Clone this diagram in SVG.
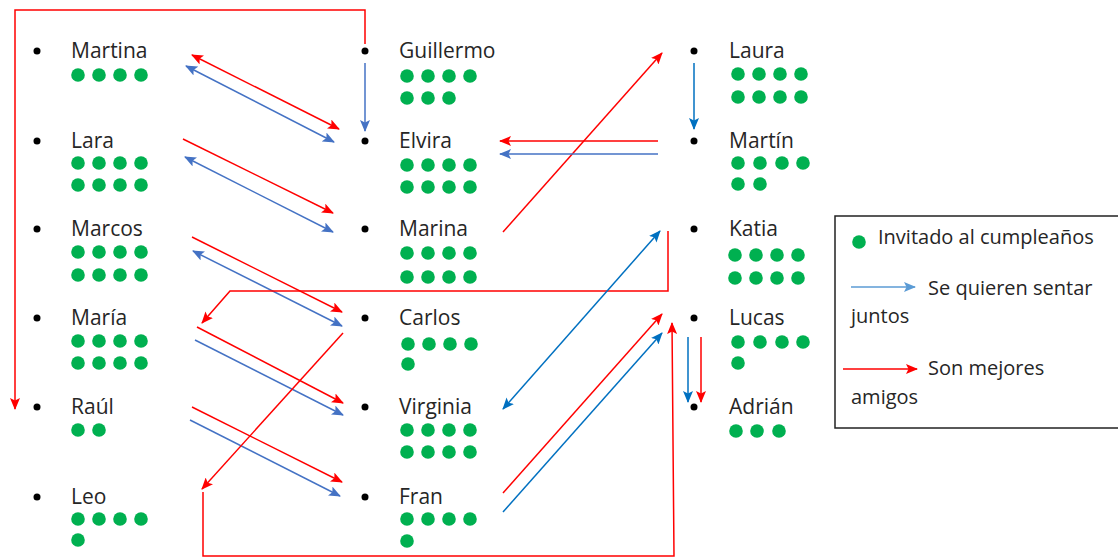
<svg xmlns="http://www.w3.org/2000/svg" width="1118" height="557" viewBox="0 0 1118 557">
<style>
.name{font-family:"Open Sans","Liberation Sans",sans-serif;font-size:21px;fill:#262626}
.leg{font-family:"Open Sans","Liberation Sans",sans-serif;font-size:20px;fill:#262626}
.g{fill:#00B050}
.b{fill:#000}
.r{stroke:#FF0000;stroke-width:1.5;fill:none;marker-end:url(#ar)}
.rn{stroke:#FF0000;stroke-width:1.5;fill:none}
.rr{stroke:#FF0000;stroke-width:1.5;fill:none;marker-end:url(#ar);marker-start:url(#ar)}
.b1{stroke:#4472C4;stroke-width:1.5;fill:none;marker-end:url(#a1)}
.b1b{stroke:#4472C4;stroke-width:1.5;fill:none;marker-end:url(#a1);marker-start:url(#a1)}
.b2{stroke:#0070C0;stroke-width:1.5;fill:none;marker-end:url(#a2)}
.b2b{stroke:#0070C0;stroke-width:1.5;fill:none;marker-end:url(#a2);marker-start:url(#a2)}
.b3{stroke:#5B9BD5;stroke-width:1.5;fill:none;marker-end:url(#a3)}
</style>
<defs>
<marker id="ar" viewBox="0 0 12 10" refX="11" refY="5" markerWidth="12" markerHeight="10" markerUnits="userSpaceOnUse" orient="auto-start-reverse"><path d="M0,0 L12,5 L0,10 L2.5,5 z" fill="#FF0000"/></marker>
<marker id="a1" viewBox="0 0 12 10" refX="11" refY="5" markerWidth="12" markerHeight="10" markerUnits="userSpaceOnUse" orient="auto-start-reverse"><path d="M0,0 L12,5 L0,10 L2.5,5 z" fill="#4472C4"/></marker>
<marker id="a2" viewBox="0 0 12 10" refX="11" refY="5" markerWidth="12" markerHeight="10" markerUnits="userSpaceOnUse" orient="auto-start-reverse"><path d="M0,0 L12,5 L0,10 L2.5,5 z" fill="#0070C0"/></marker>
<marker id="a3" viewBox="0 0 12 10" refX="11" refY="5" markerWidth="12" markerHeight="10" markerUnits="userSpaceOnUse" orient="auto-start-reverse"><path d="M0,0 L12,5 L0,10 L2.5,5 z" fill="#5B9BD5"/></marker>
</defs>
<rect width="1118" height="557" fill="#fff"/>

<g id="connectors">
<polyline class="r" points="365,44 365,10 15,10 15,409"/>
<line class="b1" x1="365" y1="63" x2="365" y2="131"/>
<line class="rr" x1="192" y1="55" x2="339" y2="129"/>
<line class="b1b" x1="186" y1="66" x2="334" y2="142"/>
<line class="r" x1="183" y1="139" x2="333" y2="213"/>
<line class="b1b" x1="185" y1="157" x2="333" y2="232"/>
<line class="r" x1="192" y1="237" x2="342" y2="312"/>
<line class="b1b" x1="193" y1="251" x2="342" y2="326"/>
<polyline class="r" points="668,231 668,291 230,291 202,323"/>
<line class="r" x1="197" y1="327" x2="343" y2="403"/>
<line class="b1" x1="195" y1="340" x2="343" y2="415"/>
<line class="r" x1="192" y1="407" x2="342" y2="482"/>
<line class="b1" x1="190" y1="420" x2="340" y2="496"/>
<line class="r" x1="343" y1="333" x2="202" y2="489"/>
<polyline class="r" points="203,492 203,556 674,556 672,323"/>
<line class="r" x1="503" y1="232" x2="662" y2="53"/>
<line class="r" x1="658" y1="141" x2="500" y2="141"/>
<line class="b1" x1="658" y1="154" x2="500" y2="154"/>
<line class="b2" x1="694" y1="63" x2="694" y2="129"/>
<line class="b2b" x1="660" y1="231" x2="503" y2="409"/>
<line class="r" x1="503" y1="493" x2="662" y2="314"/>
<line class="b2" x1="503" y1="512" x2="662" y2="333"/>
<line class="b2" x1="688" y1="337" x2="688" y2="402"/>
<line class="r" x1="701" y1="337" x2="701" y2="402"/>
</g>

<g id="martina"><circle class="b" cx="37" cy="51" r="3.5"/><text class="name" x="71" y="58">Martina</text>
<circle class="g" cx="78" cy="75" r="6.8"/><circle class="g" cx="99" cy="75" r="6.8"/><circle class="g" cx="120" cy="75" r="6.8"/><circle class="g" cx="141" cy="75" r="6.8"/></g>
<g id="lara"><circle class="b" cx="37" cy="141" r="3.5"/><text class="name" x="71" y="148">Lara</text>
<circle class="g" cx="78" cy="163" r="6.8"/><circle class="g" cx="99" cy="163" r="6.8"/><circle class="g" cx="120" cy="163" r="6.8"/><circle class="g" cx="141" cy="163" r="6.8"/>
<circle class="g" cx="78" cy="185" r="6.8"/><circle class="g" cx="99" cy="185" r="6.8"/><circle class="g" cx="120" cy="185" r="6.8"/><circle class="g" cx="141" cy="185" r="6.8"/></g>
<g id="marcos"><circle class="b" cx="37" cy="229" r="3.5"/><text class="name" x="71" y="236">Marcos</text>
<circle class="g" cx="78" cy="252" r="6.8"/><circle class="g" cx="99" cy="252" r="6.8"/><circle class="g" cx="120" cy="252" r="6.8"/><circle class="g" cx="141" cy="252" r="6.8"/>
<circle class="g" cx="78" cy="275" r="6.8"/><circle class="g" cx="99" cy="275" r="6.8"/><circle class="g" cx="120" cy="275" r="6.8"/><circle class="g" cx="141" cy="275" r="6.8"/></g>
<g id="maria"><circle class="b" cx="37" cy="318" r="3.5"/><text class="name" x="71" y="325">María</text>
<circle class="g" cx="78" cy="341" r="6.8"/><circle class="g" cx="99" cy="341" r="6.8"/><circle class="g" cx="120" cy="341" r="6.8"/><circle class="g" cx="141" cy="341" r="6.8"/>
<circle class="g" cx="78" cy="363" r="6.8"/><circle class="g" cx="99" cy="363" r="6.8"/><circle class="g" cx="120" cy="363" r="6.8"/><circle class="g" cx="141" cy="363" r="6.8"/></g>
<g id="raul"><circle class="b" cx="37" cy="407" r="3.5"/><text class="name" x="71" y="414">Raúl</text>
<circle class="g" cx="78" cy="430" r="6.8"/><circle class="g" cx="99" cy="430" r="6.8"/></g>
<g id="leo"><circle class="b" cx="37" cy="497" r="3.5"/><text class="name" x="71" y="504">Leo</text>
<circle class="g" cx="78" cy="519" r="6.8"/><circle class="g" cx="99" cy="519" r="6.8"/><circle class="g" cx="120" cy="519" r="6.8"/><circle class="g" cx="141" cy="519" r="6.8"/>
<circle class="g" cx="78" cy="540" r="6.8"/></g>

<g id="guillermo"><circle class="b" cx="365" cy="51" r="3.5"/><text class="name" x="399" y="58">Guillermo</text>
<circle class="g" cx="407" cy="76" r="6.8"/><circle class="g" cx="428" cy="76" r="6.8"/><circle class="g" cx="449" cy="76" r="6.8"/><circle class="g" cx="470" cy="76" r="6.8"/>
<circle class="g" cx="407" cy="98" r="6.8"/><circle class="g" cx="428" cy="98" r="6.8"/><circle class="g" cx="449" cy="98" r="6.8"/></g>
<g id="elvira"><circle class="b" cx="365" cy="141" r="3.5"/><text class="name" x="399" y="148">Elvira</text>
<circle class="g" cx="407" cy="165" r="6.8"/><circle class="g" cx="428" cy="165" r="6.8"/><circle class="g" cx="449" cy="165" r="6.8"/><circle class="g" cx="470" cy="165" r="6.8"/>
<circle class="g" cx="407" cy="187" r="6.8"/><circle class="g" cx="428" cy="187" r="6.8"/><circle class="g" cx="449" cy="187" r="6.8"/><circle class="g" cx="470" cy="187" r="6.8"/></g>
<g id="marina"><circle class="b" cx="365" cy="229" r="3.5"/><text class="name" x="399" y="236">Marina</text>
<circle class="g" cx="407" cy="253" r="6.8"/><circle class="g" cx="428" cy="253" r="6.8"/><circle class="g" cx="449" cy="253" r="6.8"/><circle class="g" cx="470" cy="253" r="6.8"/>
<circle class="g" cx="407" cy="277" r="6.8"/><circle class="g" cx="428" cy="277" r="6.8"/><circle class="g" cx="449" cy="277" r="6.8"/><circle class="g" cx="470" cy="277" r="6.8"/></g>
<g id="carlos"><circle class="b" cx="365" cy="318" r="3.5"/><text class="name" x="399" y="325">Carlos</text>
<circle class="g" cx="408" cy="344" r="6.8"/><circle class="g" cx="429" cy="344" r="6.8"/><circle class="g" cx="450" cy="344" r="6.8"/><circle class="g" cx="471" cy="344" r="6.8"/>
<circle class="g" cx="408" cy="364" r="6.8"/></g>
<g id="virginia"><circle class="b" cx="365" cy="407" r="3.5"/><text class="name" x="399" y="414">Virginia</text>
<circle class="g" cx="407" cy="430" r="6.8"/><circle class="g" cx="428" cy="430" r="6.8"/><circle class="g" cx="449" cy="430" r="6.8"/><circle class="g" cx="470" cy="430" r="6.8"/>
<circle class="g" cx="407" cy="452" r="6.8"/><circle class="g" cx="428" cy="452" r="6.8"/><circle class="g" cx="449" cy="452" r="6.8"/><circle class="g" cx="470" cy="452" r="6.8"/></g>
<g id="fran"><circle class="b" cx="365" cy="497" r="3.5"/><text class="name" x="399" y="504">Fran</text>
<circle class="g" cx="407" cy="519" r="6.8"/><circle class="g" cx="428" cy="519" r="6.8"/><circle class="g" cx="449" cy="519" r="6.8"/><circle class="g" cx="470" cy="519" r="6.8"/>
<circle class="g" cx="407" cy="541" r="6.8"/></g>

<g id="laura"><circle class="b" cx="694" cy="51" r="3.5"/><text class="name" x="729" y="58">Laura</text>
<circle class="g" cx="738" cy="74" r="6.8"/><circle class="g" cx="759" cy="74" r="6.8"/><circle class="g" cx="780" cy="74" r="6.8"/><circle class="g" cx="801" cy="74" r="6.8"/>
<circle class="g" cx="738" cy="97" r="6.8"/><circle class="g" cx="759" cy="97" r="6.8"/><circle class="g" cx="780" cy="97" r="6.8"/><circle class="g" cx="801" cy="97" r="6.8"/></g>
<g id="martin"><circle class="b" cx="694" cy="141" r="3.5"/><text class="name" x="729" y="148">Martín</text>
<circle class="g" cx="738" cy="163" r="6.8"/><circle class="g" cx="760" cy="163" r="6.8"/><circle class="g" cx="782" cy="163" r="6.8"/><circle class="g" cx="803" cy="163" r="6.8"/>
<circle class="g" cx="738" cy="184" r="6.8"/><circle class="g" cx="760" cy="184" r="6.8"/></g>
<g id="katia"><circle class="b" cx="694" cy="229" r="3.5"/><text class="name" x="729" y="236">Katia</text>
<circle class="g" cx="735" cy="255" r="6.8"/><circle class="g" cx="756" cy="255" r="6.8"/><circle class="g" cx="777" cy="255" r="6.8"/><circle class="g" cx="798" cy="255" r="6.8"/>
<circle class="g" cx="735" cy="278" r="6.8"/><circle class="g" cx="756" cy="278" r="6.8"/><circle class="g" cx="777" cy="278" r="6.8"/><circle class="g" cx="798" cy="278" r="6.8"/></g>
<g id="lucas"><circle class="b" cx="694" cy="318" r="3.5"/><text class="name" x="729" y="325">Lucas</text>
<circle class="g" cx="738" cy="342" r="6.8"/><circle class="g" cx="760" cy="342" r="6.8"/><circle class="g" cx="782" cy="342" r="6.8"/><circle class="g" cx="803" cy="342" r="6.8"/>
<circle class="g" cx="738" cy="363" r="6.8"/></g>
<g id="adrian"><circle class="b" cx="694" cy="407" r="3.5"/><text class="name" x="729" y="414">Adrián</text>
<circle class="g" cx="736" cy="431" r="6.8"/><circle class="g" cx="757" cy="431" r="6.8"/><circle class="g" cx="779" cy="431" r="6.8"/></g>

<g id="legend">
<rect x="835" y="216" width="300" height="212" fill="none" stroke="#222" stroke-width="1.5"/>
<circle class="g" cx="859" cy="242" r="6.8"/>
<text class="leg" x="878" y="244">Invitado al cumpleaños</text>
<line class="b3" x1="851" y1="287" x2="915" y2="287"/>
<text class="leg" x="928" y="295">Se quieren sentar</text>
<text class="leg" x="851" y="323">juntos</text>
<line class="r" x1="843" y1="369" x2="917" y2="369"/>
<text class="leg" x="928" y="375">Son mejores</text>
<text class="leg" x="851" y="404">amigos</text>
</g>
</svg>
